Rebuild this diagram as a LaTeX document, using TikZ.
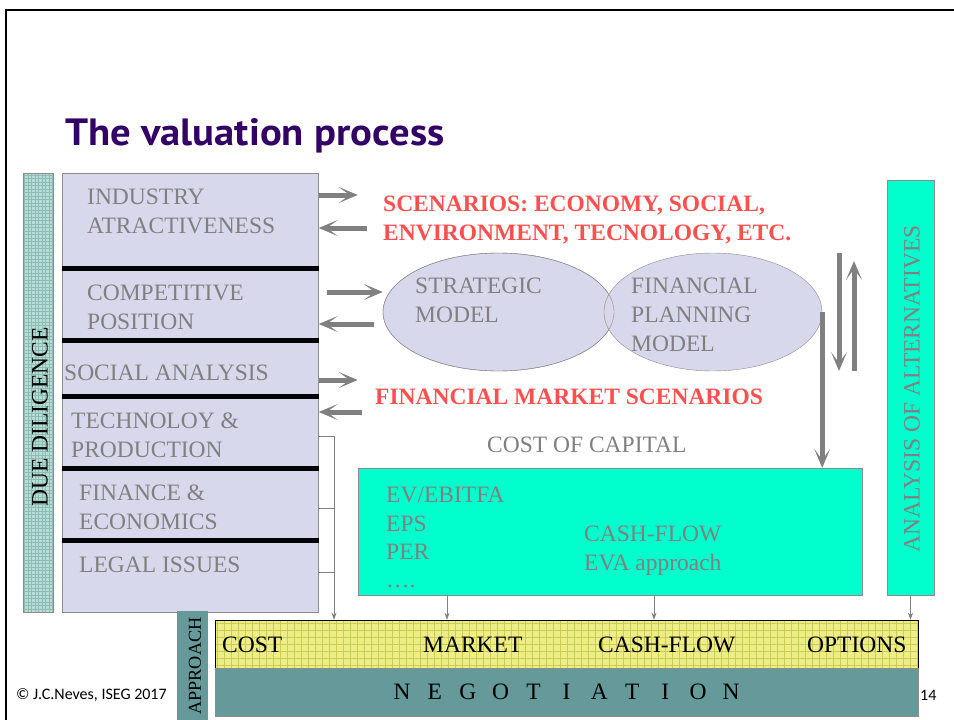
\documentclass[tikz,border=0pt]{standalone}
\usepackage{fontspec}
\setmainfont{Liberation Serif}
\newfontfamily\titlefont{PT Sans}
\newfontfamily\footfont{Carlito}
\usetikzlibrary{arrows.meta,shapes.geometric}
\definecolor{lavender}{HTML}{D8D8EC}
\definecolor{txtgray}{HTML}{808080}
\definecolor{boxgray}{HTML}{8C8C8C}
\definecolor{scenred}{HTML}{FF5050}
\definecolor{aqua}{HTML}{00FFCC}
\definecolor{tealgray}{HTML}{669999}
\definecolor{ddteal}{HTML}{B8DCD6}
\definecolor{ddgrid}{HTML}{8CBCB4}
\definecolor{yel}{HTML}{EEEE88}
\definecolor{yelgrid}{HTML}{CCCC55}
\definecolor{titlepurple}{HTML}{330066}
\tikzset{
  bigfont/.style={font=\fontsize{23.5}{29}\selectfont},
  gtext/.style={bigfont, text=txtgray, anchor=west, inner sep=0pt, align=left},
  rtext/.style={font=\fontsize{23.5}{29}\selectfont\bfseries, text=scenred, anchor=west, inner sep=0pt, align=left},
  ktext/.style={bigfont, text=black, anchor=west, inner sep=0pt},
  fatarrow/.style={draw=txtgray, line width=5pt, -{Stealth[length=19pt,width=16pt,inset=11pt]}},
  thinarrow/.style={draw=txtgray, line width=0.8pt, -{Stealth[length=7pt,width=5pt]}},
  sepline/.style={line width=5pt, black},
}
\begin{document}
\begin{tikzpicture}[x=1pt,y=-1pt]
    \useasboundingbox (0,0) rectangle (954,720);
    % Slide frame and title
    \draw[line width=2.5pt] (6,725) -- (6,10) -- (960,10);
    \node[anchor=base west, inner sep=0pt, text=titlepurple, xscale=1.07, font=\fontsize{38}{40}\selectfont\titlefont\bfseries] (title) at (65,145) {The valuation process};

    % Due diligence bar with its grid
    \fill[ddteal] (23,173) rectangle (53,612);
    \begin{scope}
      \clip (23,173) rectangle (53,612);
      \draw[ddgrid, line width=0.4pt, step=3.5pt] (23,173) grid (53,612);
    \end{scope}
    \draw[boxgray] (23,173) rectangle (53,612);
    \node[bigfont, rotate=90, inner sep=0pt] (dd) at (40,417) {DUE DILIGENCE};

    % Box of the analysis areas
    \node[draw=boxgray, fill=lavender, minimum width=256pt, minimum height=439pt, inner sep=0pt] (areas) at (190.5,392.5) {};
    \foreach \y in {268,340,396,468,540}
      \draw[sepline] (62,\y) -- (319,\y);  % black separators
    \node[gtext] (ind) at (87,211) {INDUSTRY\\ATRACTIVENESS};
    \node[gtext] (comp) at (87,307.5) {COMPETITIVE\\POSITION};
    \node[gtext] (soc) at (64,373) {SOCIAL ANALYSIS};
    \node[gtext] (tech) at (71,435.5) {TECHNOLOY \&\\PRODUCTION};
    \node[gtext] (fin) at (79,507.5) {FINANCE \&\\ECONOMICS};
    \node[gtext] (leg) at (79,565) {LEGAL ISSUES};

    % Scenario texts
    \node[rtext] (scen) at (383,220) {SCENARIOS: ECONOMY, SOCIAL,\\ENVIRONMENT, TECNOLOGY, ETC.};
    \node[rtext] (fms) at (375,396.5) {FINANCIAL MARKET SCENARIOS};
    \node[gtext] (coc) at (487,445) {COST OF CAPITAL};

    % The two models
    \node[ellipse, draw=boxgray, fill=lavender, minimum width=231pt, minimum height=118pt, inner sep=0pt] (strat) at (498.5,312) {};
    \node[ellipse, draw=boxgray, fill=lavender, minimum width=218pt, minimum height=118pt, inner sep=0pt] (plan) at (713,312) {};
    \draw[boxgray] (strat.center) ellipse [x radius=115.5pt, y radius=59pt];  % border of first model over the second
    \node[gtext] (stratlbl) at (415,300) {STRATEGIC\\MODEL};
    \node[gtext] (planlbl) at (631,314.5) {FINANCIAL\\PLANNING\\MODEL};

    % Fat arrows between the areas and the scenarios
    \draw[fatarrow] (areas.east |- 0,195) -- ++(39,0);
    \draw[fatarrow] ([xshift=48pt]areas.east |- 0,228) -- (areas.east |- 0,228);
    \draw[fatarrow] ([xshift=8pt]areas.east |- 0,292) -- (strat.west |- 0,292);
    \draw[fatarrow] ([xshift=55pt]areas.east |- 0,324) -- (areas.east |- 0,324);
    \draw[fatarrow] (areas.east |- 0,380) -- ++(39,0);
    \draw[fatarrow] ([xshift=43pt]areas.east |- 0,412) -- (areas.east |- 0,412);

    % Valuation methods box
    \node[draw=boxgray, fill=aqua, minimum width=504pt, minimum height=127pt, inner sep=0pt] (meth) at (610,531.5) {};
    \node[gtext] (mult) at (386,495) {EV/EBITFA};
    \node[gtext] (eps) at (386,524) {EPS};
    \node[gtext] (per) at (386,552) {PER};
    \node[gtext, anchor=base west] (dots) at (386,587) {\dots.};
    \node[gtext] (cfl) at (584,550.5) {CASH-FLOW\\EVA approach};

    % Arrows at the planning model
    \draw[fatarrow] (plan.east) -- (plan.east |- meth.north);
    \draw[fatarrow] (839,253) -- (839,371);
    \draw[fatarrow] (854,371) -- (854,261);

    % Analysis of alternatives bar
    \node[draw=boxgray, fill=aqua, minimum width=47pt, minimum height=415pt, inner sep=0pt] (alt) at (910.5,387.5) {};
    \node[rotate=90, text=txtgray, inner sep=0pt, font=\fontsize{23.5}{26}\selectfont] (altlbl) at (912,389) {ANALYSIS OF ALTERNATIVES};

    % Approach bar
    \node[fill=tealgray, minimum width=31pt, minimum height=110pt, inner sep=0pt] (appr) at (192.5,666) {};
    \node[rotate=90, inner sep=0pt, font=\fontsize{18.2}{20}\selectfont] (apprlbl) at (195,666) {APPROACH};

    % Approach box with grid
    \fill[yel] (215,620) rectangle (918,668);
    \begin{scope}
      \clip (215,620) rectangle (918,668);
      \draw[yelgrid, line width=0.4pt, step=7pt] (215,620) grid (918,668);
    \end{scope}
    \node[draw=black, minimum width=703pt, minimum height=48pt, inner sep=0pt] (appbox) at (566.5,644) {};
    \node[ktext] (cost) at (222,645) {COST};
    \node[ktext] (mkt) at (423,645) {MARKET};
    \node[ktext] (cf) at (598,645) {CASH-FLOW};
    \node[ktext] (opt) at (807,645) {OPTIONS};

    % Negotiation box
    \node[draw=boxgray, fill=tealgray, minimum width=703pt, minimum height=48pt, inner sep=0pt] (neg) at (566.5,692) {};
    \foreach \l [count=\i from 0] in {N,E,G,O,T,I,A,T,I,O,N}
      \node[bigfont, inner sep=0pt] (neg\i) at (402+32.9*\i,692) {\l};

    % Thin connectors into the approach box
    \coordinate (join) at (334,436);
    \draw[txtgray, line width=0.8pt] (areas.east |- join) -- (join);
    \draw[txtgray, line width=0.8pt] (areas.east |- 0,508) -- (join |- 0,508);
    \draw[txtgray, line width=0.8pt] (areas.east |- 0,572) -- (join |- 0,572);
    \draw[thinarrow] (join) -- (join |- appbox.north);
    \draw[thinarrow] (meth.south -| 447,0) -- (appbox.north -| 447,0);
    \draw[thinarrow] (meth.south -| 654,0) -- (appbox.north -| 654,0);
    \draw[thinarrow] (alt.south) -- (alt.south |- appbox.north);

    % Footer
    \node[anchor=west, inner sep=0pt, font=\fontsize{16}{18}\selectfont\footfont] (copy) at (16,695) {© J.C.Neves, ISEG 2017};
    \node[anchor=west, inner sep=0pt, font=\fontsize{16}{18}\selectfont\footfont] (pgnum) at (920,695) {14};
\end{tikzpicture}
\end{document}
